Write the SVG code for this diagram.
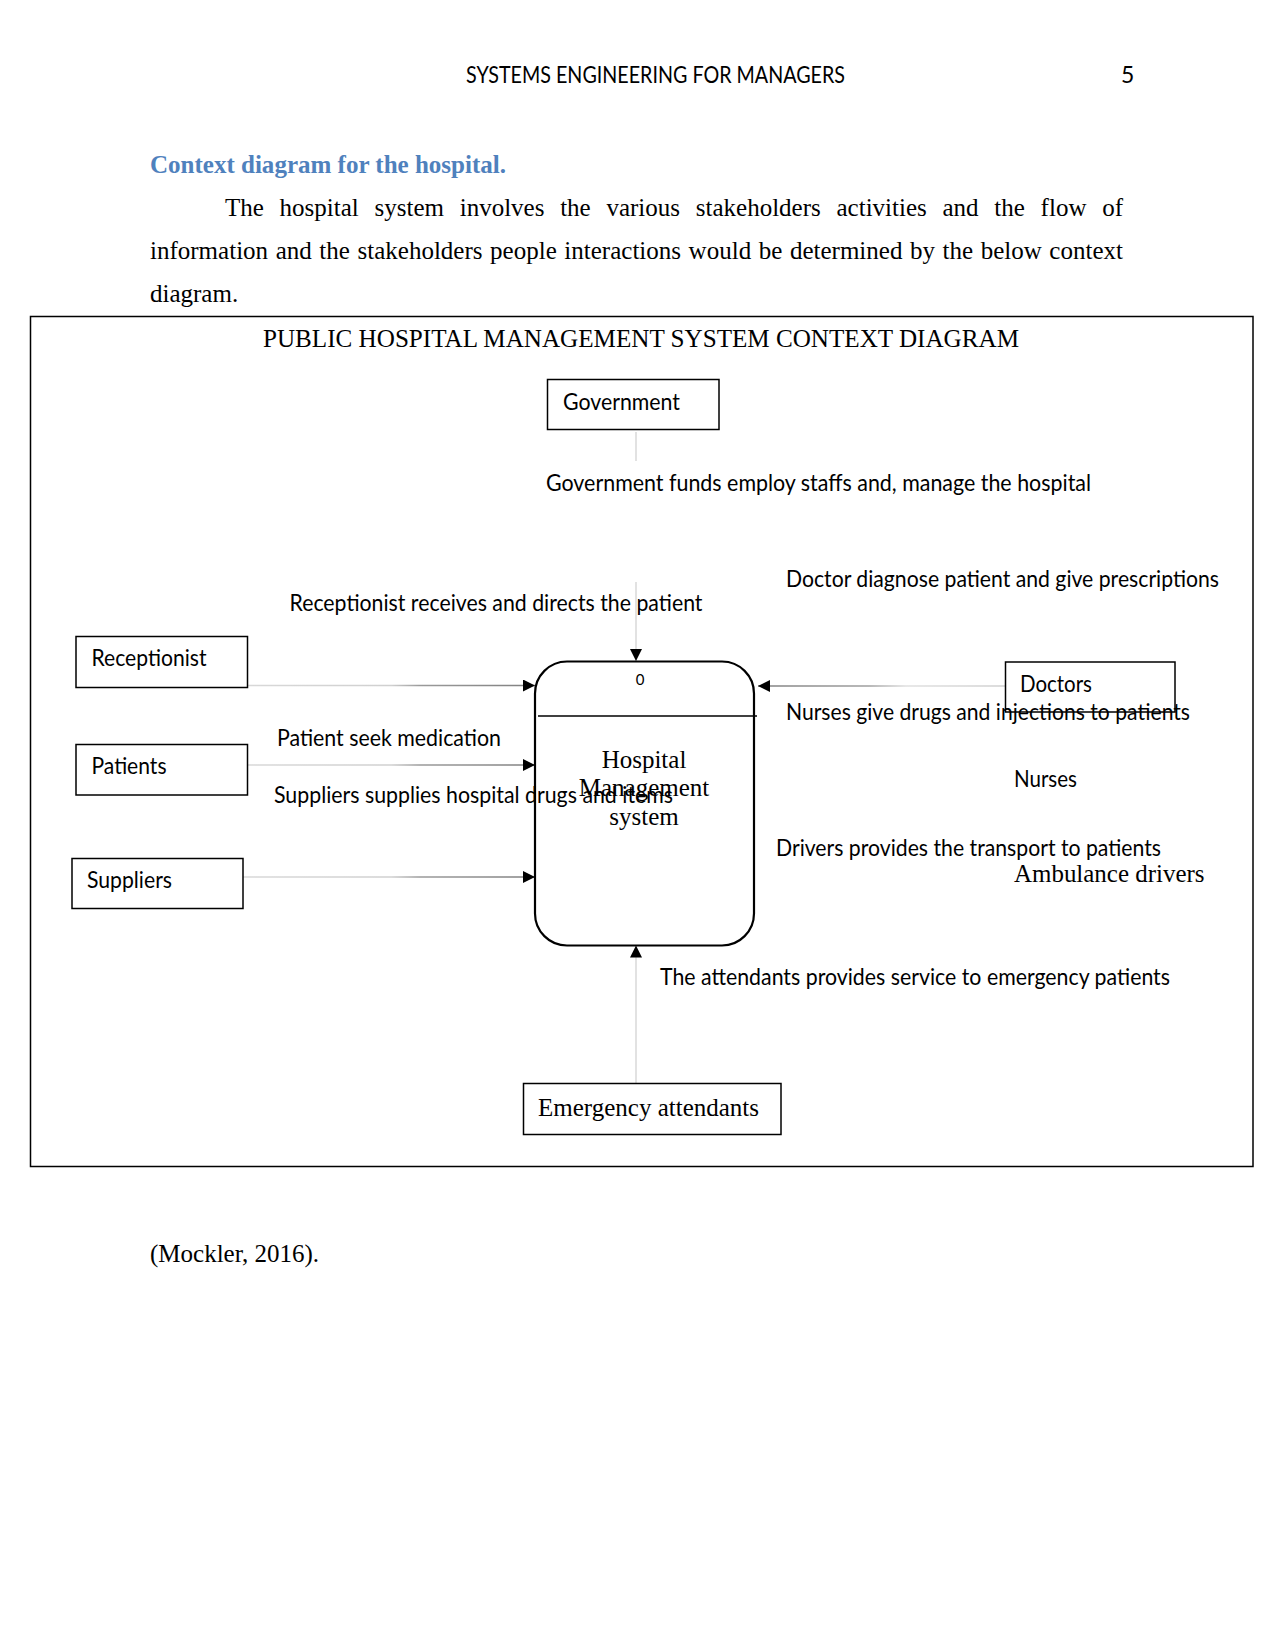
<svg xmlns="http://www.w3.org/2000/svg" width="1275" height="1651" viewBox="0 0 1275 1651">
<style>
  .serif { font-family: "Liberation Serif", "Times New Roman", serif; fill: #000; }
  .sans { font-family: Lato, "Open Sans", "Liberation Sans", sans-serif; fill: #000; font-size: 22.9px; }
  .box { fill: #fff; stroke: #000; stroke-width: 1.5; }
  .conn { fill: none; stroke-width: 1.5; }
</style>
<defs>
  <marker id="arrow" viewBox="0 0 12 12" refX="12" refY="6" markerWidth="12" markerHeight="12" markerUnits="userSpaceOnUse" orient="auto">
    <path d="M0,0 L12,6 L0,12 Z" fill="#000"/>
  </marker>
  <linearGradient id="gRec" gradientUnits="userSpaceOnUse" x1="248" y1="0" x2="535" y2="0">
    <stop offset="0" stop-color="#d8d8d8"/>
    <stop offset="0.5" stop-color="#d0d0d0"/>
    <stop offset="0.6" stop-color="#9a9a9a"/>
    <stop offset="1" stop-color="#808080"/>
  </linearGradient>
  <linearGradient id="gDoc" gradientUnits="userSpaceOnUse" x1="1005" y1="0" x2="758" y2="0">
    <stop offset="0" stop-color="#d0d0d0"/>
    <stop offset="0.4" stop-color="#e0e0e0"/>
    <stop offset="0.55" stop-color="#a0a0a0"/>
    <stop offset="1" stop-color="#808080"/>
  </linearGradient>
</defs>
<rect x="0" y="0" width="1275" height="1651" fill="#fff"/>

<!-- page header and text -->
<text class="sans" x="466" y="83" textLength="379" lengthAdjust="spacingAndGlyphs">SYSTEMS ENGINEERING FOR MANAGERS</text>
<text class="sans" x="1121" y="83">5</text>
<text class="serif" x="150" y="173" font-size="25" font-weight="bold" style="fill:#4f81bd" textLength="356" lengthAdjust="spacingAndGlyphs">Context diagram for the hospital.</text>
<text class="serif" x="225" y="216" font-size="25" word-spacing="9.5" textLength="898" lengthAdjust="spacing">The hospital system involves the various stakeholders activities and the flow of</text>
<text class="serif" x="150" y="259" font-size="25" word-spacing="1.3" textLength="973" lengthAdjust="spacing">information and the stakeholders people interactions would be determined by the below context</text>
<text class="serif" x="150" y="302" font-size="25">diagram.</text>

<!-- outer frame -->
<rect x="30.5" y="316.5" width="1222.5" height="850" fill="none" stroke="#000" stroke-width="1.5"/>
<text class="serif" x="263" y="347" font-size="25" textLength="756" lengthAdjust="spacingAndGlyphs">PUBLIC HOSPITAL MANAGEMENT SYSTEM CONTEXT DIAGRAM</text>

<!-- connectors -->
<g id="connectors">
  <path class="conn" d="M636,432 V461" stroke="#d9d9d9"/>
  <path class="conn" d="M636,582 V661" stroke="#d9d9d9" marker-end="url(#arrow)"/>
  <path class="conn" d="M248,685.5 H535" stroke="url(#gRec)" marker-end="url(#arrow)"/>
  <path class="conn" d="M248,765 H535" stroke="url(#gRec)" marker-end="url(#arrow)"/>
  <path class="conn" d="M243,877 H535" stroke="url(#gRec)" marker-end="url(#arrow)"/>
  <path class="conn" d="M1005,686 H758" stroke="url(#gDoc)" marker-end="url(#arrow)"/>
  <path class="conn" d="M636,1083 V945.5" stroke="#d9d9d9" marker-end="url(#arrow)"/>
</g>

<!-- process -->
<g id="process">
  <rect x="535" y="661.5" width="219" height="284" rx="32" ry="32" fill="none" stroke="#000" stroke-width="2.2"/>
  <line x1="538" y1="716" x2="757" y2="716" stroke="#000" stroke-width="1.5"/>
  <text x="640" y="685" font-family="Lato, 'Open Sans', sans-serif" font-size="15" text-anchor="middle">0</text>
  <text class="serif" x="644" y="768" font-size="25" text-anchor="middle">Hospital</text>
  <text class="serif" x="644" y="796" font-size="25" text-anchor="middle">Management</text>
  <text class="serif" x="644" y="825" font-size="25" text-anchor="middle">system</text>
</g>

<g id="government">
  <rect class="box" x="547.5" y="379.5" width="171.5" height="50"/>
  <text class="sans" x="563" y="409.5" textLength="117" lengthAdjust="spacingAndGlyphs">Government</text>
</g>
<g id="receptionist">
  <rect class="box" x="76" y="636.5" width="171.5" height="51"/>
  <text class="sans" x="91.5" y="665.5" textLength="115" lengthAdjust="spacingAndGlyphs">Receptionist</text>
</g>
<g id="patients">
  <rect class="box" x="76" y="744.5" width="171.5" height="50.5"/>
  <text class="sans" x="91.5" y="773.5" textLength="75" lengthAdjust="spacingAndGlyphs">Patients</text>
</g>
<g id="suppliers">
  <rect class="box" x="72" y="858.5" width="171" height="50"/>
  <text class="sans" x="87" y="887.5" textLength="85" lengthAdjust="spacingAndGlyphs">Suppliers</text>
</g>
<g id="doctors">
  <rect x="1005.5" y="662" width="169.5" height="50" fill="none" stroke="#000" stroke-width="1.5"/>
  <text class="sans" x="1020" y="691.5" textLength="72" lengthAdjust="spacingAndGlyphs">Doctors</text>
</g>
<g id="nurses">
  <text class="sans" x="1014" y="786.5" textLength="63" lengthAdjust="spacingAndGlyphs">Nurses</text>
</g>
<g id="ambulance-drivers">
  <text class="serif" x="1014" y="882" font-size="25" textLength="190.5" lengthAdjust="spacingAndGlyphs">Ambulance drivers</text>
</g>
<g id="emergency-attendants">
  <rect class="box" x="523.5" y="1083.5" width="257.5" height="51"/>
  <text class="serif" x="538" y="1115.5" font-size="25" textLength="221" lengthAdjust="spacingAndGlyphs">Emergency attendants</text>
</g>

<!-- flow labels -->
<g id="labels">
  <text class="sans" x="546" y="490.5" textLength="545" lengthAdjust="spacingAndGlyphs">Government funds employ staffs and, manage the hospital</text>
  <text class="sans" x="786" y="586.5" textLength="433" lengthAdjust="spacingAndGlyphs">Doctor diagnose patient and give prescriptions</text>
  <text class="sans" x="289.5" y="610.5" textLength="413" lengthAdjust="spacingAndGlyphs">Receptionist receives and directs the patient</text>
  <text class="sans" x="786" y="720" textLength="404" lengthAdjust="spacingAndGlyphs">Nurses give drugs and injections to patients</text>
  <text class="sans" x="277" y="745.5" textLength="224" lengthAdjust="spacingAndGlyphs">Patient seek medication</text>
  <text class="sans" x="274" y="802.5" textLength="399" lengthAdjust="spacingAndGlyphs">Suppliers supplies hospital drugs and items</text>
  <text class="sans" x="776" y="856" textLength="385" lengthAdjust="spacingAndGlyphs">Drivers provides the transport to patients</text>
  <text class="sans" x="660" y="984.5" textLength="510" lengthAdjust="spacingAndGlyphs">The attendants provides service to emergency patients</text>
</g>

<text class="serif" x="150" y="1262" font-size="25">(Mockler, 2016).</text>
</svg>
